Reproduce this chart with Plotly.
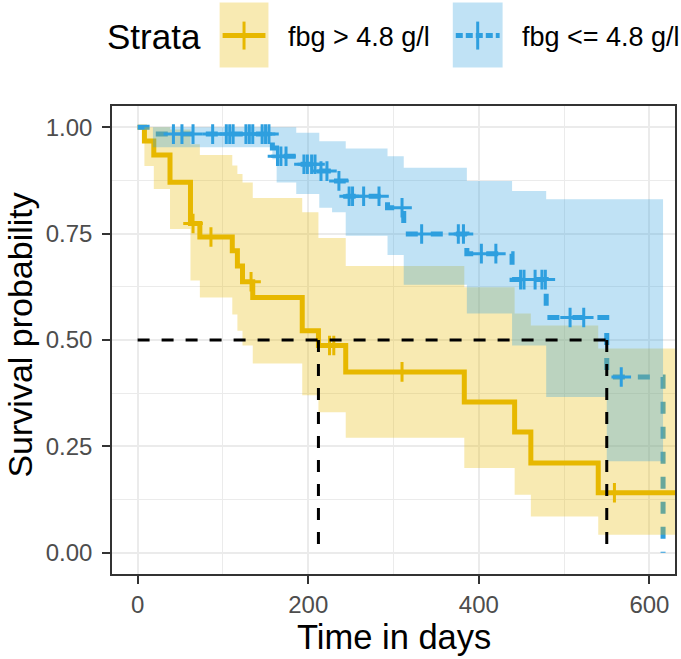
import plotly.graph_objects as go

# ---------------- data ----------------
# Stratum 1: fbg > 4.8 g/l
hi_time  = [0, 8, 19, 38, 62, 73, 111, 117, 123, 135, 193, 212, 244, 383, 442, 461, 540, 640]
hi_surv  = [1.0, 0.968, 0.935, 0.871, 0.774, 0.742, 0.710, 0.674, 0.637, 0.600, 0.522, 0.487, 0.425, 0.354, 0.284, 0.211, 0.141, 0.141]
hi_upper = [1.0, 1.0, 1.0, 0.995, 0.960, 0.935, 0.910, 0.890, 0.870, 0.834, 0.800, 0.740, 0.674, 0.624, 0.562, 0.534, 0.480, 0.480]
hi_lower = [1.0, 0.909, 0.855, 0.761, 0.640, 0.600, 0.560, 0.522, 0.487, 0.445, 0.370, 0.330, 0.270, 0.199, 0.136, 0.085, 0.042, 0.042]
hi_censor = [65, 86, 133, 225, 230, 310, 559]

# Stratum 2: fbg <= 4.8 g/l
lo_time  = [0, 18, 158, 163, 186, 213, 228, 244, 293, 312, 386, 439, 479, 550, 616]
lo_surv  = [1.0, 0.984, 0.951, 0.932, 0.913, 0.897, 0.874, 0.838, 0.811, 0.749, 0.703, 0.642, 0.553, 0.413, 0.0]
lo_upper = [1.0, 1.0, 1.0, 1.0, 0.987, 0.967, 0.967, 0.950, 0.932, 0.905, 0.874, 0.850, 0.831, 0.831, 0.831]
lo_lower = [1.0, 0.953, 0.925, 0.870, 0.843, 0.811, 0.800, 0.745, 0.700, 0.630, 0.562, 0.487, 0.366, 0.215, 0.215]
lo_censor = [42, 52, 65, 88, 104, 108, 112, 127, 131, 135, 146, 150, 154, 164, 168, 174,
             195, 199, 204, 208, 215, 222, 236, 248, 252, 265, 283, 310, 333, 376, 382,
             403, 420, 449, 453, 466, 474, 478, 507, 523, 567]

strata_labels = ["fbg > 4.8 g/l", "fbg <= 4.8 g/l"]
x_ticks = [0, 200, 400, 600]
y_ticks = [0, 0.25, 0.5, 0.75, 1.0]

YEL = "#E7B800"
BLU = "#2E9FDF"
YEL_F = "rgba(231,184,0,0.3)"
BLU_F = "rgba(46,159,223,0.3)"
FONT = "Liberation Sans, Arial, sans-serif"


def surv_at(times, surv, t):
    idx = max(i for i, tt in enumerate(times) if tt <= t)
    return surv[idx]


def median_time(times, surv):
    for t, s in zip(times, surv):
        if s <= 0.5:
            return t
    return None


fig = go.Figure()

# step curves (drawn first; ribbons overlay them as in survminer)
fig.add_trace(go.Scatter(x=hi_time, y=hi_surv, mode="lines", line=dict(color=YEL, width=5, shape="hv"),
                         hoverinfo="skip"))
fig.add_trace(go.Scatter(x=lo_time, y=lo_surv, mode="lines",
                         line=dict(color=BLU, width=5, shape="hv", dash="12px,13px"), hoverinfo="skip"))

# confidence ribbons
fig.add_trace(go.Scatter(x=hi_time, y=hi_lower, mode="lines", line=dict(width=0, shape="hv"),
                         hoverinfo="skip"))
fig.add_trace(go.Scatter(x=hi_time, y=hi_upper, mode="lines", line=dict(width=0, shape="hv"),
                         fill="tonexty", fillcolor=YEL_F, hoverinfo="skip"))
fig.add_trace(go.Scatter(x=lo_time, y=lo_lower, mode="lines", line=dict(width=0, shape="hv"),
                         hoverinfo="skip"))
fig.add_trace(go.Scatter(x=lo_time, y=lo_upper, mode="lines", line=dict(width=0, shape="hv"),
                         fill="tonexty", fillcolor=BLU_F, hoverinfo="skip"))

# censor marks
fig.add_trace(go.Scatter(x=hi_censor, y=[surv_at(hi_time, hi_surv, t) for t in hi_censor], mode="markers",
                         marker=dict(symbol="cross-thin", size=14, line=dict(color=YEL, width=3)),
                         hoverinfo="skip"))
fig.add_trace(go.Scatter(x=lo_censor, y=[surv_at(lo_time, lo_surv, t) for t in lo_censor], mode="markers",
                         marker=dict(symbol="cross-thin", size=14, line=dict(color=BLU, width=3)),
                         hoverinfo="skip"))

# median survival lines
meds = [median_time(hi_time, hi_surv), median_time(lo_time, lo_surv)]
fig.add_trace(go.Scatter(x=[0, max(meds)], y=[0.5, 0.5], mode="lines",
                         line=dict(color="black", width=3, dash="12px,12px"), hoverinfo="skip"))
for m in meds:
    fig.add_trace(go.Scatter(x=[m, m], y=[0.5, 0], mode="lines",
                             line=dict(color="black", width=3, dash="12px,12px"), hoverinfo="skip"))

# ---------------- layout ----------------
L, R, T, B = 112, 677, 105.5, 574
W, H = R - L, B - T


def px(p):
    return (p - L) / W


def py(p):
    return (B - p) / H


axis_common = dict(
    ticks="outside", ticklen=8, tickwidth=2, tickcolor="#333333",
    tickfont=dict(size=24, color="#4D4D4D", family=FONT),
    showgrid=True, gridcolor="#EBEBEB", gridwidth=2,
    showline=True, mirror=True, linecolor="#333333", linewidth=1.5,
    zeroline=False,
)
fig.update_xaxes(range=[-30, 630], tickvals=x_ticks, ticktext=[str(v) for v in x_ticks],
                 minor=dict(tickvals=[100, 300, 500], showgrid=True, gridcolor="#EBEBEB", gridwidth=1),
                 **axis_common)
fig.update_yaxes(range=[-0.05, 1.05], tickvals=y_ticks, ticktext=["%.2f" % v for v in y_ticks],
                 minor=dict(tickvals=[0.125, 0.375, 0.625, 0.875], showgrid=True, gridcolor="#EBEBEB", gridwidth=1),
                 ticklabelstandoff=5,
                 **axis_common)

annotations = [
    dict(text="Time in days", x=0.5, y=py(637), xref="paper", yref="paper", showarrow=False,
         xanchor="center", yanchor="middle", font=dict(size=34.5, color="black", family=FONT)),
    dict(text="Survival probability", x=px(20), y=py(335), xref="paper", yref="paper", showarrow=False,
         textangle=-90, xanchor="center", yanchor="middle", font=dict(size=34, color="black", family=FONT)),
    dict(text="Strata", x=px(105), y=py(36), xref="paper", yref="paper", showarrow=False,
         xanchor="left", yanchor="middle", font=dict(size=35, color="black", family=FONT)),
    dict(text=strata_labels[0], x=px(287), y=py(36), xref="paper", yref="paper", showarrow=False,
         xanchor="left", yanchor="middle", font=dict(size=27, color="black", family=FONT)),
    dict(text=strata_labels[1], x=px(521), y=py(36), xref="paper", yref="paper", showarrow=False,
         xanchor="left", yanchor="middle", font=dict(size=27, color="black", family=FONT)),
]

shapes = []
for (bx0, bx1, col, fcol, dash) in [(220, 269, YEL, YEL_F, "solid"), (454, 504, BLU, BLU_F, "7px,3px")]:
    shapes.append(dict(type="rect", xref="paper", yref="paper", x0=px(bx0), x1=px(bx1), y0=py(67), y1=py(2),
                       fillcolor=fcol, line=dict(width=0), layer="above"))
    shapes.append(dict(type="line", xref="paper", yref="paper", x0=px(bx0 + 3), x1=px(bx1 - 3), y0=py(35), y1=py(35),
                       line=dict(color=col, width=5, dash=dash), layer="above"))
    cx = (bx0 + bx1) / 2
    shapes.append(dict(type="line", xref="paper", yref="paper", x0=px(cx), x1=px(cx), y0=py(21), y1=py(49),
                       line=dict(color=col, width=3), layer="above"))

fig.update_layout(
    width=681, height=659,
    margin=dict(l=L, r=681 - R, t=T, b=659 - B, pad=0),
    plot_bgcolor="white", paper_bgcolor="white",
    showlegend=False,
    font=dict(family=FONT),
    annotations=annotations,
    shapes=shapes,
)

fig.write_html("out.html", config={"displayModeBar": False},
               post_script="document.body.style.margin='0px';")
